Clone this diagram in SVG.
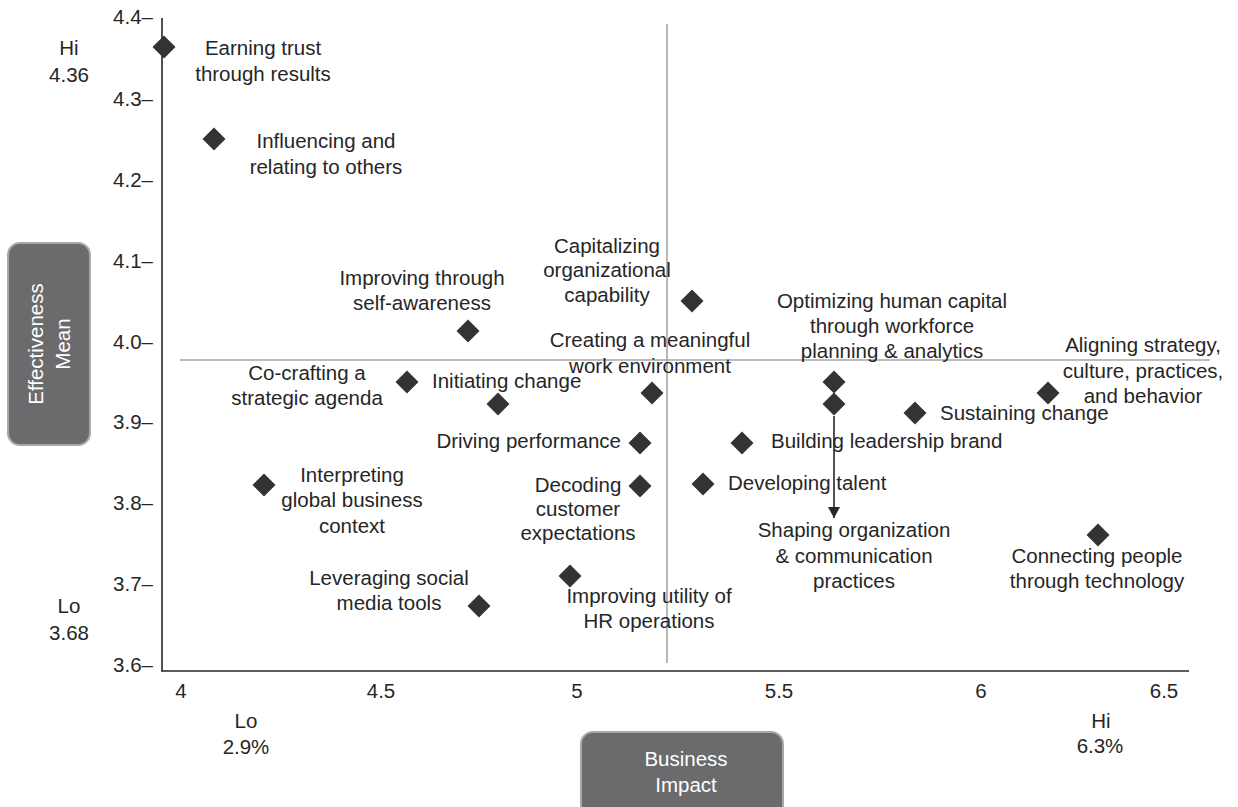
<svg xmlns="http://www.w3.org/2000/svg" width="1238" height="807" viewBox="0 0 1238 807">
<defs>
<style>
text{font-family:"Liberation Sans",Arial,Helvetica,sans-serif;font-size:20.5px;fill:#262626}
.m{text-anchor:middle}
.e{text-anchor:end}
.w{fill:#ffffff}
.axis{stroke:#262626;stroke-width:1.6;fill:none}
.quad{stroke:#a6a6a6;stroke-width:1.6;fill:none}
.box{fill:#6b6b6e;stroke:#a8a8a8;stroke-width:2}
.d{fill:#333333}
</style>
<path id="dm" d="M0,-11.5 L11.5,0 L0,11.5 L-11.5,0 Z"/>
<marker id="ah" markerWidth="11" markerHeight="12" refX="11" refY="6" orient="auto" markerUnits="userSpaceOnUse" viewBox="0 0 11 12">
<path d="M0,0 L11,6 L0,12 Z" fill="#262626"/>
</marker>
</defs>
<rect width="1238" height="807" fill="#ffffff"/>

<g id="axes">
<line class="quad" x1="667" y1="24" x2="667" y2="663"/>
<line class="quad" x1="180" y1="360" x2="1210" y2="360"/>
<line class="axis" x1="162" y1="18" x2="162" y2="671"/>
<line class="axis" x1="161" y1="671" x2="1189" y2="671"/>
<text class="e" x="153" y="24">4.4–</text>
<text class="e" x="153" y="106">4.3–</text>
<text class="e" x="153" y="187">4.2–</text>
<text class="e" x="153" y="268">4.1–</text>
<text class="e" x="153" y="349">4.0–</text>
<text class="e" x="153" y="429">3.9–</text>
<text class="e" x="153" y="510">3.8–</text>
<text class="e" x="153" y="591">3.7–</text>
<text class="e" x="153" y="672">3.6–</text>
<text class="m" x="181" y="698">4</text>
<text class="m" x="381" y="698">4.5</text>
<text class="m" x="577" y="698">5</text>
<text class="m" x="779" y="698">5.5</text>
<text class="m" x="981" y="698">6</text>
<text class="m" x="1164" y="698">6.5</text>
<text class="m" x="69" y="55">Hi</text>
<text class="m" x="69" y="82">4.36</text>
<text class="m" x="69" y="613">Lo</text>
<text class="m" x="69" y="640">3.68</text>
<text class="m" x="246" y="728">Lo</text>
<text class="m" x="246" y="754">2.9%</text>
<text class="m" x="1101" y="728">Hi</text>
<text class="m" x="1100" y="753">6.3%</text>
</g>

<g id="ylabel">
<rect class="box" x="8" y="243" width="82" height="202" rx="12"/>
<text class="m w" transform="translate(43 344) rotate(-90)">Effectiveness</text>
<text class="m w" transform="translate(70 344) rotate(-90)">Mean</text>
</g>

<g id="xlabel">
<rect class="box" x="581" y="732" width="202" height="90" rx="12"/>
<text class="m w" x="686" y="766">Business</text>
<text class="m w" x="686" y="792">Impact</text>
</g>

<g id="connectors">
<line x1="834" y1="416" x2="834" y2="518" stroke="#262626" stroke-width="1.6" marker-end="url(#ah)"/>
</g>

<g id="earning-trust">
<use href="#dm" class="d" x="164" y="47"/>
<text class="m" x="263" y="55">Earning trust</text>
<text class="m" x="263" y="81">through results</text>
</g>
<g id="influencing">
<use href="#dm" class="d" x="214" y="139"/>
<text class="m" x="326" y="148">Influencing and</text>
<text class="m" x="326" y="174">relating to others</text>
</g>
<g id="self-awareness">
<use href="#dm" class="d" x="468" y="331"/>
<text class="m" x="422" y="285">Improving through</text>
<text class="m" x="422" y="310">self-awareness</text>
</g>
<g id="capitalizing">
<use href="#dm" class="d" x="692" y="301"/>
<text class="m" x="607" y="253">Capitalizing</text>
<text class="m" x="607" y="277">organizational</text>
<text class="m" x="607" y="302">capability</text>
</g>
<g id="optimizing">
<use href="#dm" class="d" x="834" y="382"/>
<text class="m" x="892" y="308">Optimizing human capital</text>
<text class="m" x="892" y="333">through workforce</text>
<text class="m" x="892" y="358">planning &amp; analytics</text>
</g>
<g id="creating">
<use href="#dm" class="d" x="652" y="393"/>
<text class="m" x="650" y="347">Creating a meaningful</text>
<text class="m" x="650" y="373">work environment</text>
</g>
<g id="co-crafting">
<use href="#dm" class="d" x="407" y="382"/>
<text class="m" x="307" y="380">Co-crafting a</text>
<text class="m" x="307" y="405">strategic agenda</text>
</g>
<g id="initiating">
<use href="#dm" class="d" x="498" y="404"/>
<text x="432" y="388">Initiating change</text>
</g>
<g id="driving">
<use href="#dm" class="d" x="640" y="443"/>
<text class="e" x="621" y="448">Driving performance</text>
</g>
<g id="decoding">
<use href="#dm" class="d" x="640" y="486"/>
<text class="m" x="578" y="492">Decoding</text>
<text class="m" x="578" y="516">customer</text>
<text class="m" x="578" y="540">expectations</text>
</g>
<g id="developing">
<use href="#dm" class="d" x="703" y="484"/>
<text x="728" y="490">Developing talent</text>
</g>
<g id="building">
<use href="#dm" class="d" x="742" y="443"/>
<text x="771" y="448">Building leadership brand</text>
</g>
<g id="shaping">
<use href="#dm" class="d" x="834" y="404"/>
<text class="m" x="854" y="537">Shaping organization</text>
<text class="m" x="854" y="563">&amp; communication</text>
<text class="m" x="854" y="588">practices</text>
</g>
<g id="sustaining">
<use href="#dm" class="d" x="915" y="413"/>
<text x="940" y="420">Sustaining change</text>
</g>
<g id="aligning">
<use href="#dm" class="d" x="1048" y="393"/>
<text class="m" x="1143" y="352">Aligning strategy,</text>
<text class="m" x="1143" y="378">culture, practices,</text>
<text class="m" x="1143" y="403">and behavior</text>
</g>
<g id="interpreting">
<use href="#dm" class="d" x="264" y="485"/>
<text class="m" x="352" y="482">Interpreting</text>
<text class="m" x="352" y="507">global business</text>
<text class="m" x="352" y="533">context</text>
</g>
<g id="leveraging">
<use href="#dm" class="d" x="479" y="606"/>
<text class="m" x="389" y="585">Leveraging social</text>
<text class="m" x="389" y="610">media tools</text>
</g>
<g id="hr-operations">
<use href="#dm" class="d" x="570" y="576"/>
<text class="m" x="649" y="603">Improving utility of</text>
<text class="m" x="649" y="628">HR operations</text>
</g>
<g id="connecting">
<use href="#dm" class="d" x="1098" y="535"/>
<text class="m" x="1097" y="563">Connecting people</text>
<text class="m" x="1097" y="588">through technology</text>
</g>
</svg>
